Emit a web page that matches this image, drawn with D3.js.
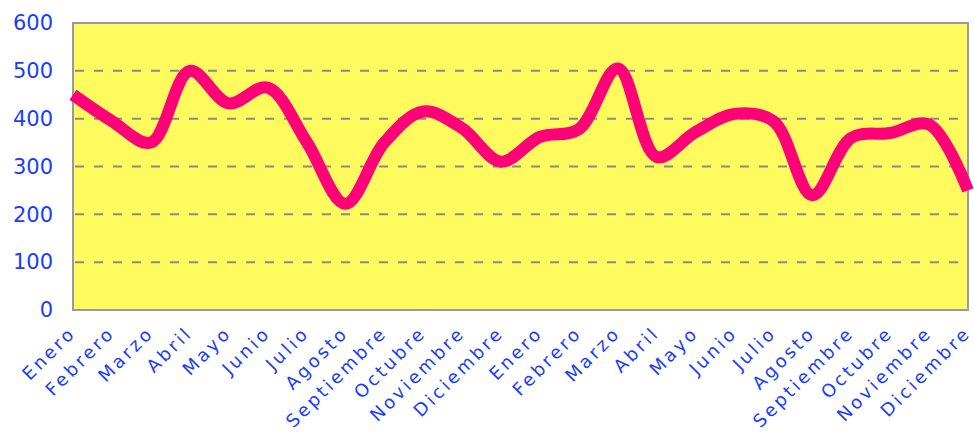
<!DOCTYPE html>
<html>
<head>
<meta charset="utf-8">
<script src="https://cdn.jsdelivr.net/npm/d3@7"></script>
<style>
  body { margin: 0; background: #fff; }
  svg { display: block; }
</style>
</head>
<body>
<div id="chart"></div>
<script>
// month labels, two years in a row
const months = ["Enero", "Febrero", "Marzo", "Abril", "Mayo", "Junio", "Julio",
    "Agosto", "Septiembre", "Octubre", "Noviembre", "Diciembre"];
const categories = months.concat(months);
const values = [450, 395, 350, 500, 432, 465, 352, 222, 350, 415, 380, 310,
    362, 378, 505, 320, 372, 410, 395, 240, 360, 370, 388, 250];
const yTicks = [0, 100, 200, 300, 400, 500, 600];

const width = 974, height = 434;
const margin = { top: 23, right: 6, bottom: 124, left: 73 };

const svg = d3.select("#chart").append("svg")
    .attr("width", width)
    .attr("height", height);

const x = d3.scalePoint()
    .domain(d3.range(categories.length))
    .range([margin.left, width - margin.right]);

const y = d3.scaleLinear()
    .domain([0, 600])
    .range([height - margin.bottom, margin.top]);

// plot background
svg.append("rect")
    .attr("x", margin.left)
    .attr("y", margin.top)
    .attr("width", width - margin.left - margin.right)
    .attr("height", y(0) - margin.top)
    .attr("fill", "#fffa5e")
    .attr("stroke", "#9a9a9a")
    .attr("stroke-width", 2);

// dashed gridlines
svg.append("g")
    .selectAll("line")
    .data(yTicks.filter(d => d > 0 && d < 600))
    .enter().append("line")
    .attr("x1", margin.left + 2)
    .attr("x2", width - margin.right - 2)
    .attr("y1", d => y(d))
    .attr("y2", d => y(d))
    .attr("stroke", "#8a8a8a")
    .attr("stroke-width", 2)
    .attr("stroke-dasharray", "9,10");

// y axis labels
const yAxis = d3.axisLeft(y).tickValues(yTicks).tickSize(0).tickPadding(20);
svg.append("g")
    .attr("transform", `translate(${margin.left},0)`)
    .call(yAxis)
    .call(g => g.select(".domain").remove())
    .selectAll("text")
    .attr("fill", "#1a3cff")
    .attr("font-family", "DejaVu Sans")
    .attr("font-size", "21px");

// x labels, rotated
svg.append("g")
    .selectAll("text")
    .data(categories)
    .enter().append("text")
    .attr("transform", (d, i) => `translate(${x(i) + 4},334) rotate(-45)`)
    .attr("text-anchor", "end")
    .attr("fill", "#1a3cff")
    .attr("font-family", "DejaVu Sans")
    .attr("font-size", "18px")
    .attr("letter-spacing", "3px")
    .text(d => d);

// the line
const line = d3.line()
    .x((d, i) => x(i))
    .y(d => y(d))
    .curve(d3.curveCatmullRom.alpha(0.5));

svg.append("path")
    .datum(values)
    .attr("fill", "none")
    .attr("stroke", "#ff0078")
    .attr("stroke-width", 12)
    .attr("stroke-linejoin", "round")
    .attr("d", line);
</script>
</body>
</html>
